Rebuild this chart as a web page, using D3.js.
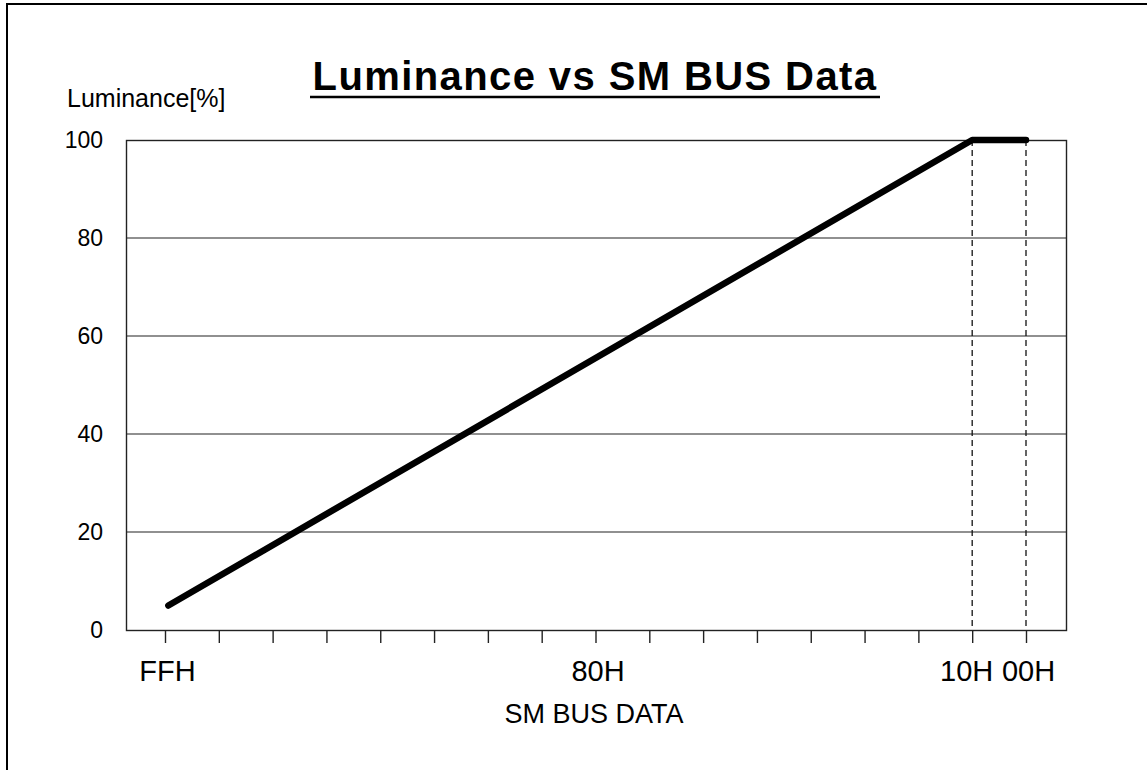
<!DOCTYPE html>
<html>
<head>
<meta charset="utf-8">
<script src="https://cdn.jsdelivr.net/npm/d3@7"></script>
<style>
    body { margin: 0; background: white; }
    svg { display: block; }
    text { font-family: "Liberation Sans", Arial, sans-serif; fill: black; }
</style>
</head>
<body>
<svg id="chart"></svg>
<script>
    // SM bus register value (0xFF .. 0x00) and luminance in percent
    const busData = [255, 16, 0];
    const luminance = [5, 100, 100];

    const yTicks = [0, 20, 40, 60, 80, 100];
    // tick every 16 counts from 256 down to 0
    const xTicks = d3.range(256, -1, -16);
    const xTickLabels = {256: "FFH", 128: "80H", 16: "10H", 0: "00H"};
    const dashedAt = [16, 0];

    const WIDTH = 1147, HEIGHT = 770;
    const PLOT = {left: 126, right: 1066, top: 140, bottom: 630};

    let svg = d3.select("#chart")
        .attr("width", WIDTH)
        .attr("height", HEIGHT);

    //frame of the original picture (top and left edges only)
    svg.append("line")
        .attr("x1", 6).attr("x2", WIDTH)
        .attr("y1", 4).attr("y2", 4)
        .attr("stroke", "black").attr("stroke-width", 2);
    svg.append("line")
        .attr("x1", 7).attr("x2", 7)
        .attr("y1", 3).attr("y2", HEIGHT)
        .attr("stroke", "black").attr("stroke-width", 2);

    let x = d3.scaleLinear()
        .domain([256, 0])
        .range([165, 1026]);

    let y = d3.scaleLinear()
        .domain([0, 100])
        .range([PLOT.bottom, PLOT.top]);

    let g = svg.append("g");

    //horizontal grid lines
    g.selectAll(".grid")
        .data(yTicks.filter(d => d > 0 && d < 100))
        .enter()
        .append("line")
            .attr("class", "grid")
            .attr("x1", PLOT.left).attr("x2", PLOT.right)
            .attr("y1", d => y(d)).attr("y2", d => y(d))
            .attr("stroke", "#222").attr("stroke-width", 1.2);

    //dashed markers at 10H and 00H
    g.selectAll(".marker")
        .data(dashedAt)
        .enter()
        .append("line")
            .attr("class", "marker")
            .attr("x1", d => x(d)).attr("x2", d => x(d))
            .attr("y1", PLOT.top).attr("y2", PLOT.bottom)
            .attr("stroke", "#111").attr("stroke-width", 1.3)
            .attr("stroke-dasharray", "6,4");

    //plot frame
    g.append("rect")
        .attr("x", PLOT.left + 0.5).attr("y", PLOT.top + 0.5)
        .attr("width", PLOT.right - PLOT.left)
        .attr("height", PLOT.bottom - PLOT.top)
        .attr("fill", "none")
        .attr("stroke", "#222").attr("stroke-width", 1.4);

    //x axis: ticks below the frame, only some labelled
    let xAxis = d3.axisBottom(x)
        .tickValues(xTicks)
        .tickSize(13)
        .tickFormat(d => xTickLabels[d] || "");

    let xAxisG = svg.append("g")
        .attr("transform", "translate(0," + PLOT.bottom + ")")
        .call(xAxis);
    xAxisG.select(".domain").remove();
    xAxisG.selectAll(".tick line").attr("stroke", "#222").attr("stroke-width", 1.4);
    xAxisG.selectAll(".tick text")
        .attr("font-size", 29)
        .attr("font-family", "Liberation Sans, Arial, sans-serif")
        .attr("fill", "black")
        .attr("y", 0)
        .attr("dy", 51)
        .attr("dx", d => d === 16 ? -6 : 2);

    //y axis: labels only
    let yAxis = d3.axisLeft(y)
        .tickValues(yTicks)
        .tickSize(0)
        .tickPadding(23);

    let yAxisG = svg.append("g")
        .attr("transform", "translate(" + PLOT.left + ",0)")
        .call(yAxis);
    yAxisG.select(".domain").remove();
    yAxisG.selectAll(".tick text")
        .attr("font-size", 23)
        .attr("font-family", "Liberation Sans, Arial, sans-serif")
        .attr("fill", "black");

    //the luminance curve
    let line = d3.line()
        .x((d, i) => x(busData[i]))
        .y(d => y(d));

    svg.append("path")
        .datum(luminance)
        .attr("d", line)
        .attr("fill", "none")
        .attr("stroke", "black")
        .attr("stroke-width", 6.5)
        .attr("stroke-linecap", "round")
        .attr("stroke-linejoin", "round");

    //titles
    svg.append("text")
        .attr("x", 595).attr("y", 90)
        .attr("text-anchor", "middle")
        .attr("font-size", 40)
        .attr("font-weight", "bold")
        .attr("letter-spacing", 1.4)
        .text("Luminance vs SM BUS Data");

    svg.append("line")
        .attr("x1", 310).attr("x2", 880)
        .attr("y1", 97).attr("y2", 97)
        .attr("stroke", "black").attr("stroke-width", 2.5);

    svg.append("text")
        .attr("x", 67).attr("y", 107)
        .attr("font-size", 25)
        .text("Luminance[%]");

    svg.append("text")
        .attr("x", 594).attr("y", 723)
        .attr("text-anchor", "middle")
        .attr("font-size", 27)
        .text("SM BUS DATA");
</script>
</body>
</html>
